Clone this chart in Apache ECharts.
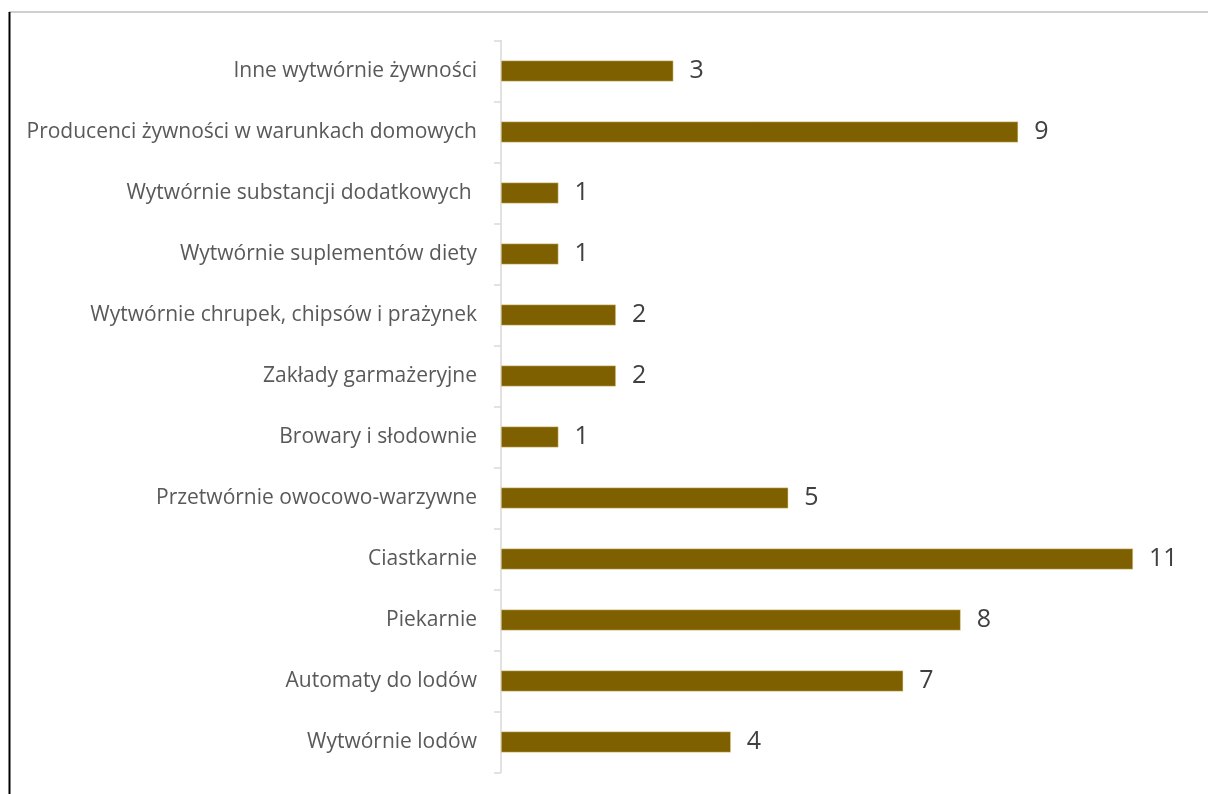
<!DOCTYPE html>
<html>
<head>
<meta charset="utf-8">
<script src="https://cdn.jsdelivr.net/npm/echarts@6/dist/echarts.min.js"></script>
<style>
  html, body { margin: 0; padding: 0; background: #ffffff; }
  #chart { width: 1208px; height: 794px; }
</style>
</head>
<body>
<div id="chart"></div>
<script>
// Categories listed top to bottom
const categories = [
  'Inne wytwórnie żywności',
  'Producenci żywności w warunkach domowych',
  'Wytwórnie substancji dodatkowych ',
  'Wytwórnie suplementów diety',
  'Wytwórnie chrupek, chipsów i prażynek',
  'Zakłady garmażeryjne',
  'Browary i słodownie',
  'Przetwórnie owocowo-warzywne',
  'Ciastkarnie',
  'Piekarnie',
  'Automaty do lodów',
  'Wytwórnie lodów'
];
const counts = [3, 9, 1, 1, 2, 2, 1, 5, 11, 8, 7, 4];

const chart = echarts.init(document.getElementById('chart'), null, { renderer: 'canvas' });
const FONT = '"Open Sans", Lato, sans-serif';

chart.setOption({
  animation: false,
  backgroundColor: '#ffffff',
  grid: { left: 501, top: 40.5, width: 689.5, height: 732, containLabel: false },
  xAxis: {
    type: 'value', min: 0, max: 12,
    show: false
  },
  yAxis: {
    type: 'category',
    data: categories,
    inverse: true,
    axisLine: { show: true, lineStyle: { color: '#d9d9d9', width: 1.5 } },
    axisTick: { show: true, length: 7, lineStyle: { color: '#d9d9d9', width: 1.5 } },
    axisLabel: { margin: 24, color: '#595959', fontSize: 21, fontFamily: FONT }
  },
  series: [{
    type: 'bar',
    data: counts,
    barWidth: 21,
    itemStyle: { color: '#7f6000', borderColor: '#f2e3b3', borderWidth: 0.5 },
    label: {
      show: true, position: 'right', distance: 16,
      color: '#404040', fontSize: 25, fontFamily: FONT
    }
  }],
  graphic: [
    { type: 'line', shape: { x1: 9, y1: 12, x2: 1208, y2: 12 }, style: { stroke: '#bfbfbf', lineWidth: 1.5 } },
    { type: 'line', shape: { x1: 9.5, y1: 12, x2: 9.5, y2: 794 }, style: { stroke: '#000000', lineWidth: 2 } }
  ]
});
</script>
</body>
</html>
